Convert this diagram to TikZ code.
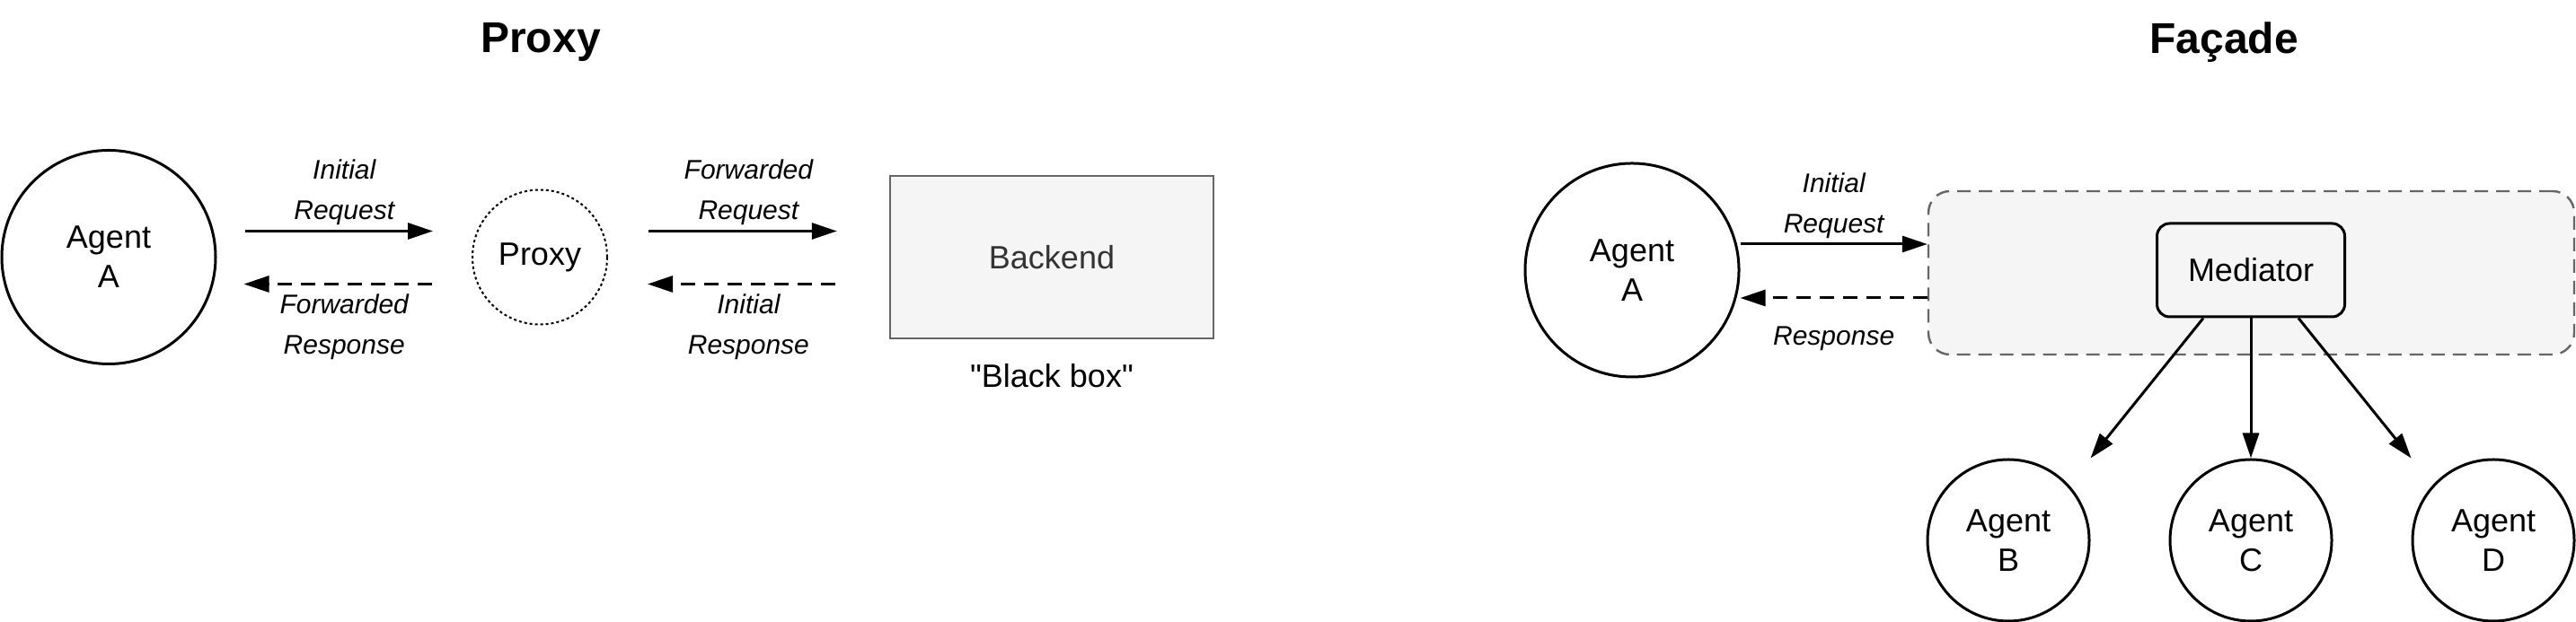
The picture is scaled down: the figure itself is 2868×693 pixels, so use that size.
\documentclass[tikz,border=0pt]{standalone}
\usepackage{fontspec}
\setmainfont{Liberation Sans}[Ligatures=TeXOff]
\usetikzlibrary{arrows.meta,positioning}
\definecolor{boxfill}{HTML}{F5F5F5}
\definecolor{boxline}{HTML}{666666}
\definecolor{boxtext}{HTML}{333333}
\begin{document}
\begin{tikzpicture}[
		x=0.25pt, y=0.25pt,
		>={Triangle[length=7pt,width=4.5pt]},
		agent/.style={circle,draw,line width=0.75pt,minimum size=59.5pt,inner sep=0pt,align=center,font=\fontsize{9}{11}\selectfont},
		smallagent/.style={agent,minimum size=45pt},
		lbl/.style={font=\fontsize{7.5}{11.25}\selectfont\itshape,align=center,inner sep=0pt},
		txt/.style={font=\fontsize{9}{11}\selectfont,inner sep=0pt},
		title/.style={font=\fontsize{12}{14}\selectfont\bfseries,inner sep=0pt},
		req/.style={->,line width=0.75pt},
		resp/.style={req,dash pattern=on 4pt off 2.5pt},
		container/.style={draw=boxline,fill=boxfill,line width=0.6pt,dash pattern=on 3.75pt off 2.25pt,rounded corners=6pt,minimum width=179.75pt,minimum height=45.5pt},
		mediatorbox/.style={draw,fill=boxfill,line width=0.75pt,rounded corners=3.5pt,minimum width=52.25pt,minimum height=26pt,txt}
		]
		\useasboundingbox (0,0) rectangle (2868,693);
		% Proxy
		\node[title] (proxyTitle) at (602,646) {Proxy};
		\node[agent] (agentA) at (121,406.5) {Agent\\A};
		\node[agent,minimum size=37.5pt,line width=0.5pt,dash pattern=on 0.75pt off 0.75pt] (proxy) at (601,406.5) {Proxy};
		\node[txt,draw=boxline,fill=boxfill,line width=0.6pt,minimum width=90pt,minimum height=45.25pt,text=boxtext] (backend) at (1171,406.5) {Backend};
		\node[txt] (blackBox) at (1171,274) {"Black box"};
		\draw[req,shorten <=7.75pt,shorten >=10.75pt] ([yshift=7.25pt]agentA.east) -- ([yshift=7.25pt]proxy.west) node[midway,lbl,yshift=10.9pt] (lblInitReq) {Initial\\Request};
		\draw[resp,shorten <=11pt,shorten >=7.5pt] ([yshift=-7.5pt]proxy.west) -- ([yshift=-7.5pt]agentA.east) node[midway,lbl,yshift=-11.9pt] (lblFwdResp) {Forwarded\\Response};
		\draw[req,shorten <=11.25pt,shorten >=14.5pt] ([yshift=7.25pt]proxy.east) -- ([yshift=7.25pt]backend.west) node[midway,lbl,yshift=10.9pt] (lblFwdReq) {Forwarded\\Request};
		\draw[resp,shorten <=15pt,shorten >=11pt] ([yshift=-7.5pt]backend.west) -- ([yshift=-7.5pt]proxy.east) node[midway,lbl,yshift=-11.9pt] (lblInitResp) {Initial\\Response};
		% Facade
		\node[title] (facadeTitle) at (2476,646) {Façade};
		\node[agent] (agentF) at (1817,392) {Agent\\A};
		\node[container] (facade) at (2506.5,389) {};
		\node[mediatorbox] (mediator) at (2506,392) {Mediator};
		\node[smallagent] (agentB) at (2236,91) {Agent\\B};
		\node[smallagent] (agentC) at (2506,91) {Agent\\C};
		\node[smallagent] (agentD) at (2776,91) {Agent\\D};
		\coordinate (reqF) at ([yshift=7.25pt]agentF.east);
		\coordinate (respF) at ([yshift=-7.75pt]agentF.east);
		\draw[req] (reqF) -- (reqF -| facade.west) node[midway,lbl,yshift=10.6pt] (lblFacReq) {Initial\\Request};
		\draw[resp] (respF -| facade.west) -- (respF) node[midway,lbl,yshift=-11.25pt] (lblFacResp) {Response};
		\draw[req] ([xshift=-13.25pt]mediator.south) -- (agentB.north -| agentB.east);
		\draw[req] (mediator.south) -- (agentC.north);
		\draw[req] ([xshift=13.25pt]mediator.south) -- (agentD.north -| agentD.west);
\end{tikzpicture}
\end{document}
